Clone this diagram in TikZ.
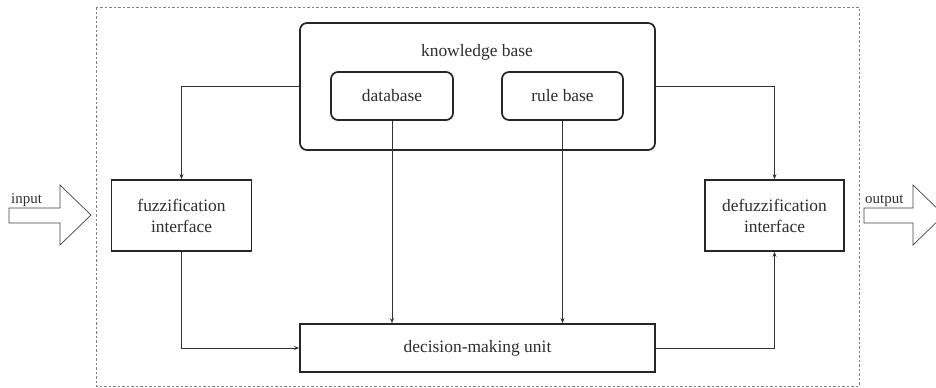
\documentclass[tikz,border=0pt]{standalone}
\usepackage{fontspec}
\setmainfont{Liberation Serif}
\usetikzlibrary{arrows.meta}
\begin{document}
\begin{tikzpicture}[x=1bp,y=-1bp,
  txt/.style={font=\fontsize{17.5}{21}\selectfont, text=black!82, align=center, inner sep=0pt},
  blk/.style={draw=black!85, line width=1.7bp, fill=white, inner sep=0pt},
  rblk/.style={blk, rounded corners=7bp},
  conn/.style={draw=black!80, line width=0.8bp, -{Stealth[length=5bp,width=4bp]}},
  fat/.style={draw=black!75, line width=0.7bp, fill=white, line join=miter}]
\useasboundingbox (0,0) rectangle (936,387);
\draw[black!50, dashed, dash pattern=on 2.5bp off 2bp, line width=0.6bp] (96,7) rectangle (859,386);
\node[rblk, minimum width=355bp, minimum height=127bp] (kb) at (477.5,86.5) {};
\node[txt] (kbl) at (477,52) {knowledge base};
\node[rblk, txt, minimum width=122bp, minimum height=48bp] (db) at (392,96) {database};
\node[rblk, txt, minimum width=121bp, minimum height=48bp] (rb) at (562.5,96) {rule base};
\node[blk, txt, minimum width=140bp, minimum height=71bp] (fz) at (181.5,215.5) {fuzzification\\interface};
\node[blk, txt, minimum width=139bp, minimum height=71bp] (dfz) at (774.5,215.5) {defuzzification\\interface};
\node[blk, txt, minimum width=355bp, minimum height=48bp] (dm) at (477.5,348) {decision-making unit};
\draw[conn] (kb.west) -| (fz.north);
\draw[conn] (kb.east) -| (dfz.north);
\draw[conn] (db.south) -- (db.south |- dm.north);
\draw[conn] (rb.south) -- (rb.south |- dm.north);
\draw[conn] (fz.south) |- (dm.west);
\draw[conn] (dm.east) -| (dfz.south);
% input arrow
\draw[fat] (9,208) -- (60,208) -- (60,185) -- (91,215) -- (60,245) -- (60,223) -- (9,223) -- cycle;
\node[txt, font=\fontsize{15}{16}\selectfont, anchor=base west] (inl) at (11,203) {input};
% output arrow
\draw[fat] (864,208) -- (913,208) -- (913,185) -- (944,215) -- (913,245) -- (913,223) -- (864,223) -- cycle;
\node[txt, font=\fontsize{15}{16}\selectfont, anchor=base west] (outl) at (865,203) {output};
\end{tikzpicture}
\end{document}
